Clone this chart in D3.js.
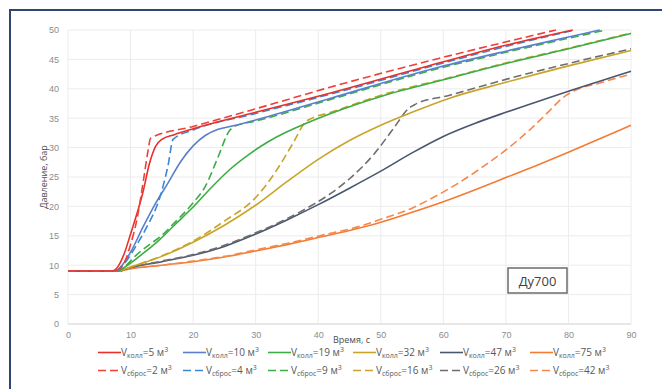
<!DOCTYPE html>
<html>
<head>
<meta charset="utf-8">
<script src="https://cdn.jsdelivr.net/npm/d3@7"></script>
<style>
  body { margin: 0; background: #fff; }
  svg { display: block; font-family: "Open Sans", "Liberation Sans", sans-serif; }
  .tick text { fill: #8c8c8c; font-size: 9px; }
  .grid-line { stroke: #ececec; stroke-width: 1; }
  .axis-lbl { fill: #4d4d4d; font-size: 9px; }
  .legend-lbl { fill: #595959; font-size: 10px; }
</style>
</head>
<body>
<svg id="chart" width="662" height="389"></svg>
<script>
// ── Data: time (s) vs. pressure (bar) ─────────────────────────────────────
const xTicks = [0, 10, 20, 30, 40, 50, 60, 70, 80, 90];
const yTicks = [0, 5, 10, 15, 20, 25, 30, 35, 40, 45, 50];

const kollVolumes  = ["5", "10", "19", "32", "47", "75"];
const sbrosVolumes = ["2", "4", "9", "16", "26", "42"];
const seriesColors = ["#e8302a", "#5b7fcc", "#3cad45", "#c9a429", "#4a5670", "#f47b34"];
const dashColors   = ["#ee3f38", "#3a87d2", "#3cad45", "#c9a429", "#6e6e6e", "#f5894a"];

// V колл (solid)
const koll5 = [[0,9],[7,9],[8,9.8],[9,12],[10,15.3],[11,18.7],[12,22.5],[13,27.2],[14,30.2],[15,31.4],
  [17,32.2],[20,33.2],[30,36.0],[42,39.3],[60,44.6],[70,47.4],[80.7,50]];
const koll10 = [[0,9],[7.5,9],[8.5,9.8],[10,12.2],[12,16.5],[14,20.5],[16,24],[18,27.6],[20,30.3],
  [22,32.1],[24,33.1],[26.4,33.7],[30,34.7],[42,38.4],[59.4,43.7],[70,46.4],[80,48.8],[85,50]];
const koll19 = [[0,9],[8,9],[9,9.6],[12,12],[14.7,14.4],[17,16.8],[20,19.9],[23,23.3],[26,26.4],[29,28.9],
  [32,31.0],[35,32.7],[38,34.1],[42,35.8],[50,38.7],[61,41.8],[70,44.3],[80,46.8],[90,49.4]];
const koll32 = [[0,9],[8,9],[10,9.7],[15,11.5],[20,13.9],[25,16.8],[30,20.2],[35,24.2],[40,28.0],
  [45,31.2],[50,33.8],[55,36.0],[61,38.4],[70,41.1],[80,43.9],[90,46.5]];
const koll47 = [[0,9],[8,9],[10,9.6],[15,10.6],[20,11.7],[25,13.2],[30,15.3],[35,17.7],[40,20.3],
  [45,23.1],[50,26.0],[55,29.1],[60,31.9],[65,34.1],[70,36.0],[75,37.8],[80,39.6],[85,41.3],[90,43]];
const koll75 = [[0,9],[8,9],[10,9.4],[15,10],[20,10.6],[25,11.4],[30,12.4],[35,13.5],[40,14.7],[45,15.9],
  [50,17.3],[55,19],[60,20.8],[65,22.8],[70,24.9],[75,27],[80,29.2],[85,31.5],[90,33.8]];

// V сброс (dashed)
const sbros2 = [[0,9],[7,9],[8.5,9.6],[10,13.5],[11,17.7],[12,24],[12.8,29.5],[13.2,31.6],[20,33.6],
  [30,36.6],[42,40.3],[59.4,45.2],[78,50]];
const sbros4 = [[0,9],[7.5,9],[9,10.3],[11,13.5],[12.6,16.5],[14.7,21.6],[16,27],[16.8,31.4],[20,33.0],
  [30,35.8],[42,39.1],[60,44.4],[70,47.2],[81,50]];
const sbros9 = [[0,9],[8,9],[9,9.7],[11,11.8],[13,13.5],[14.7,14.8],[17,17.2],[20,20.6],[22,23.5],
  [23.8,27.9],[25.9,33],[26.6,33.6],[30,34.5],[42,38.2],[59.4,43.5],[70,46.2],[80,48.6],[86,50]];
const sbros16 = [[0,9],[8,9],[10,9.7],[15,11.6],[20,14.1],[25,17.5],[30,21.5],[33,25.6],[36,30.8],
  [38,34.4],[39,35.0],[42,36.0],[50,38.9],[61,41.9],[70,44.4],[80,46.9],[90,49.5]];
const sbros26 = [[0,9],[8,9],[10,9.6],[15,10.7],[20,11.8],[25,13.4],[30,15.5],[35,17.9],[39,20.2],
  [42,22.2],[45,24.7],[49,29.0],[52,33.2],[54.6,36.8],[55.4,37.3],[61,38.9],[70,41.6],[80,44.3],[90,46.8]];
const sbros42 = [[0,9],[8,9],[10,9.4],[15,10],[20,10.7],[25,11.5],[30,12.6],[35,13.7],[41,15.2],[46.6,16.6],
  [50,17.8],[55,19.7],[58,21.3],[62,23.7],[66,26.5],[70,29.6],[74,33.2],[77,36.3],[79,38.4],
  [81,39.7],[85,41],[90,42.5]];

const kollSeries  = [koll5, koll10, koll19, koll32, koll47, koll75];
const sbrosSeries = [sbros2, sbros4, sbros9, sbros16, sbros26, sbros42];

// ── Layout ────────────────────────────────────────────────────────────────
const M = { top: 30, left: 68, right: 31, bottom: 65 };
const VW = 662, VH = 389;
const W = VW - M.left - M.right;
const H = VH - M.top - M.bottom;

const svg = d3.select("#chart");

// outer frame (top + left edges visible)
svg.append("rect")
  .attr("x", 10).attr("y", 10).attr("width", 700).attr("height", 420)
  .attr("fill", "#fff").attr("stroke", "#2d4770").attr("stroke-width", 2);

const g = svg.append("g").attr("transform", `translate(${M.left},${M.top})`);

const x = d3.scaleLinear().domain([0, 90]).range([0, W]);
const y = d3.scaleLinear().domain([0, 50]).range([H, 0]);

// Grid
g.append("g").selectAll("line.grid-line")
  .data(yTicks)
  .join("line").attr("class", "grid-line")
  .attr("x1", 0).attr("x2", W)
  .attr("y1", d => y(d)).attr("y2", d => y(d));
g.append("g").selectAll("line.grid-line")
  .data(xTicks)
  .join("line").attr("class", "grid-line")
  .attr("x1", d => x(d)).attr("x2", d => x(d))
  .attr("y1", 0).attr("y2", H);
g.append("line")
  .attr("x1", 0).attr("x2", W).attr("y1", H).attr("y2", H)
  .attr("stroke", "#d9d9d9");

// Axes
g.append("g").attr("transform", `translate(0,${H})`)
  .call(d3.axisBottom(x).tickValues(xTicks).tickSize(0).tickPadding(8))
  .call(a => a.select(".domain").remove());
g.append("g")
  .call(d3.axisLeft(y).tickValues(yTicks).tickSize(0).tickPadding(9))
  .call(a => a.select(".domain").remove());

// Axis labels
svg.append("text").attr("class", "axis-lbl")
  .attr("x", 333).attr("y", 343).text("Время, с");
svg.append("text").attr("class", "axis-lbl")
  .attr("transform", "rotate(-90)")
  .attr("x", -(M.top + H / 2)).attr("y", 47)
  .attr("text-anchor", "middle").text("Давление, бар");

// Curves
const line = d3.line()
  .x(d => x(d[0])).y(d => y(d[1]))
  .curve(d3.curveMonotoneX);

const order = [5, 4, 3, 2, 1, 0];
order.forEach(i => {
  g.append("path").datum(kollSeries[i])
    .attr("d", line).attr("fill", "none")
    .attr("stroke", seriesColors[i]).attr("stroke-width", 1.6);
  g.append("path").datum(sbrosSeries[i])
    .attr("d", line).attr("fill", "none")
    .attr("stroke", dashColors[i]).attr("stroke-width", 1.6)
    .attr("stroke-dasharray", "8 4");
});

// Ду700 label box
svg.append("rect")
  .attr("x", 508).attr("y", 268).attr("width", 59).attr("height", 25)
  .attr("fill", "#fff").attr("stroke", "#6b6b6b").attr("stroke-width", 1.5);
svg.append("text")
  .attr("x", 537.5).attr("y", 285.5).attr("text-anchor", "middle")
  .attr("font-size", "13px").attr("fill", "#404040").text("Ду700");

// Legend
const legX = [98, 183, 268, 353, 440, 530];
function legendItem(row, i, sub, vol, color, dashed) {
  const ly = row === 0 ? 356 : 374;
  const item = svg.append("g").attr("transform", `translate(${legX[i]},${ly})`);
  item.append("line")
    .attr("x1", 0).attr("x2", 23).attr("y1", -3.5).attr("y2", -3.5)
    .attr("stroke", color).attr("stroke-width", 1.6)
    .attr("stroke-dasharray", dashed ? "8 4" : null);
  const t = item.append("text").attr("class", "legend-lbl").attr("x", 23);
  t.append("tspan").text("V");
  t.append("tspan").attr("font-size", "7px").attr("dy", 2).text(sub);
  t.append("tspan").attr("dy", -2).text(`=${vol} м`);
  t.append("tspan").attr("font-size", "7px").attr("dy", -4).text("3");
}
kollVolumes.forEach((v, i) => legendItem(0, i, "колл", v, seriesColors[i], false));
sbrosVolumes.forEach((v, i) => legendItem(1, i, "сброс", v, dashColors[i], true));
</script>
</body>
</html>
